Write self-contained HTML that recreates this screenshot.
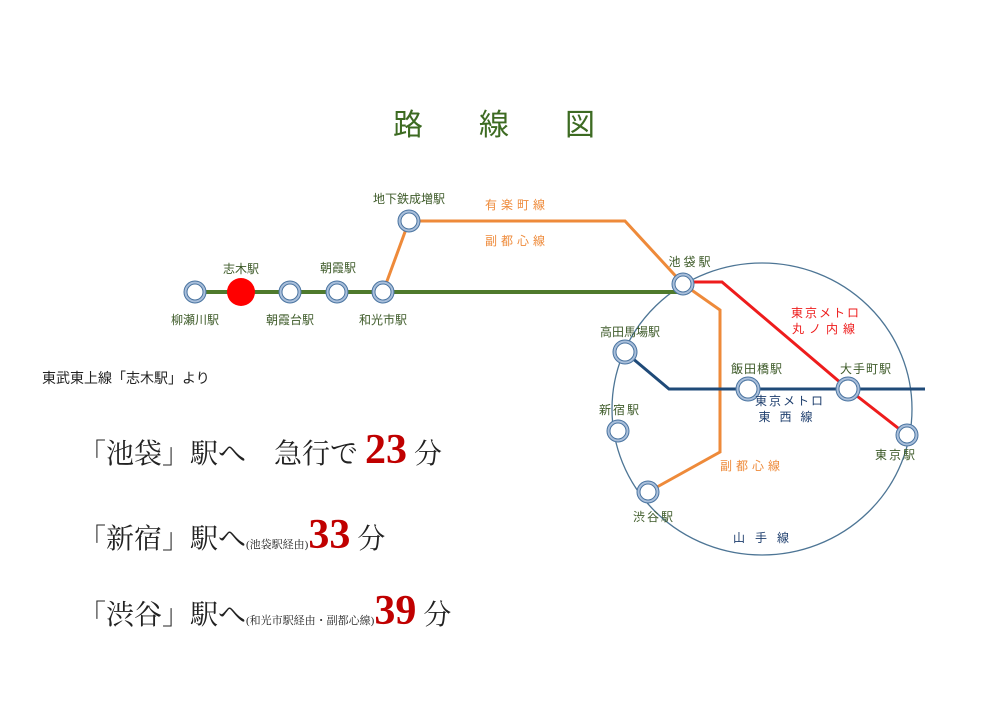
<!DOCTYPE html>
<html><head><meta charset="utf-8"><style>
body{margin:0;background:#fff;}
svg{display:block;font-family:"Liberation Sans","Noto Sans CJK JP",sans-serif;}
.g{fill:#3d5a28;font-size:12px;}
.serif{font-family:"Liberation Serif","Noto Serif CJK SC",serif;}
</style></head><body>
<svg width="1000" height="706" viewBox="0 0 1000 706">
<text x="393" y="135" fill="#3d6b22" font-size="30" letter-spacing="56">路線図</text>
<ellipse cx="762" cy="409" rx="150" ry="146" fill="none" stroke="#4d7595" stroke-width="1.3"/>
<line x1="195" y1="292" x2="683" y2="292" stroke="#4f7a2c" stroke-width="4"/>
<polyline points="383,292 409,221 625,221 683,284 720,310 720,452 648,492" fill="none" stroke="#ee8a3a" stroke-width="3"/>
<polyline points="690,282 722,282 848,389 907,435" fill="none" stroke="#ee1c1c" stroke-width="3"/>
<polyline points="625,352 669,389 925,389" fill="none" stroke="#1f4a78" stroke-width="3"/>
<g fill="#fff" stroke="#a9bfdb" stroke-width="3">
<circle cx="195" cy="292" r="9.5"/><circle cx="290" cy="292" r="9.5"/><circle cx="337" cy="292" r="9.5"/><circle cx="383" cy="292" r="9.5"/><circle cx="409" cy="221" r="9.5"/>
<circle cx="683" cy="284" r="9.5"/><circle cx="625" cy="352" r="10.5"/><circle cx="618" cy="431" r="9.5"/><circle cx="648" cy="492" r="9.5"/><circle cx="748" cy="389" r="10.5"/><circle cx="848" cy="389" r="10.5"/><circle cx="907" cy="435" r="9.5"/>
</g>
<g fill="none" stroke="#4a74a0" stroke-width="1">
<circle cx="195" cy="292" r="8"/><circle cx="290" cy="292" r="8"/><circle cx="337" cy="292" r="8"/><circle cx="383" cy="292" r="8"/><circle cx="409" cy="221" r="8"/>
<circle cx="683" cy="284" r="8"/><circle cx="625" cy="352" r="9"/><circle cx="618" cy="431" r="8"/><circle cx="648" cy="492" r="8"/><circle cx="748" cy="389" r="9"/><circle cx="848" cy="389" r="9"/><circle cx="907" cy="435" r="8"/>
<circle cx="195" cy="292" r="11"/><circle cx="290" cy="292" r="11"/><circle cx="337" cy="292" r="11"/><circle cx="383" cy="292" r="11"/><circle cx="409" cy="221" r="11"/>
<circle cx="683" cy="284" r="11"/><circle cx="625" cy="352" r="12"/><circle cx="618" cy="431" r="11"/><circle cx="648" cy="492" r="11"/><circle cx="748" cy="389" r="12"/><circle cx="848" cy="389" r="12"/><circle cx="907" cy="435" r="11"/>
</g>
<circle cx="241" cy="292" r="14" fill="#f00"/>
<g class="g">
<text x="241" y="273" text-anchor="middle">志木駅</text>
<text x="195" y="324" text-anchor="middle">柳瀬川駅</text>
<text x="290" y="324" text-anchor="middle">朝霞台駅</text>
<text x="338" y="272" text-anchor="middle">朝霞駅</text>
<text x="383" y="324" text-anchor="middle">和光市駅</text>
<text x="409" y="203" text-anchor="middle">地下鉄成増駅</text>
<text x="691" y="266" text-anchor="middle" letter-spacing="3">池袋駅</text>
<text x="630" y="336" text-anchor="middle">高田馬場駅</text>
<text x="620" y="414" text-anchor="middle" letter-spacing="2">新宿駅</text>
<text x="654" y="521" text-anchor="middle" letter-spacing="2">渋谷駅</text>
<text x="757" y="373" text-anchor="middle" letter-spacing="1">飯田橋駅</text>
<text x="866" y="373" text-anchor="middle" letter-spacing="1">大手町駅</text>
<text x="896" y="459" text-anchor="middle" letter-spacing="2">東京駅</text>
</g>
<g fill="#ee8a3a" font-size="12" letter-spacing="4">
<text x="517" y="209" text-anchor="middle">有楽町線</text>
<text x="517" y="245" text-anchor="middle">副都心線</text>
<text x="752" y="470" text-anchor="middle">副都心線</text>
</g>
<g fill="#ee1c1c" font-size="12" letter-spacing="2">
<text x="826" y="317" text-anchor="middle">東京メトロ</text>
<text x="826" y="333" text-anchor="middle" letter-spacing="5">丸ノ内線</text>
</g>
<g fill="#1f3f6e" font-size="12">
<text x="790" y="405" text-anchor="middle" letter-spacing="2">東京メトロ</text>
<text x="790" y="421" text-anchor="middle" letter-spacing="9">東西線</text>
<text x="766" y="542" text-anchor="middle" letter-spacing="10">山手線</text>
</g>
<text x="42" y="383" font-size="14" fill="#222">東武東上線「志木駅」より</text>
<g class="serif" fill="#222" font-size="28">
<text x="78" y="463">「池袋」駅へ　急行で <tspan fill="#c00000" font-size="42" font-weight="bold">23</tspan> 分</text>
<text x="78" y="548">「新宿」駅へ<tspan font-size="11">(池袋駅経由)</tspan><tspan fill="#c00000" font-size="42" font-weight="bold">33</tspan> 分</text>
<text x="78" y="624">「渋谷」駅へ<tspan font-size="11">(和光市駅経由・副都心線)</tspan><tspan fill="#c00000" font-size="42" font-weight="bold">39</tspan> 分</text>
</g>
</svg>
</body></html>
